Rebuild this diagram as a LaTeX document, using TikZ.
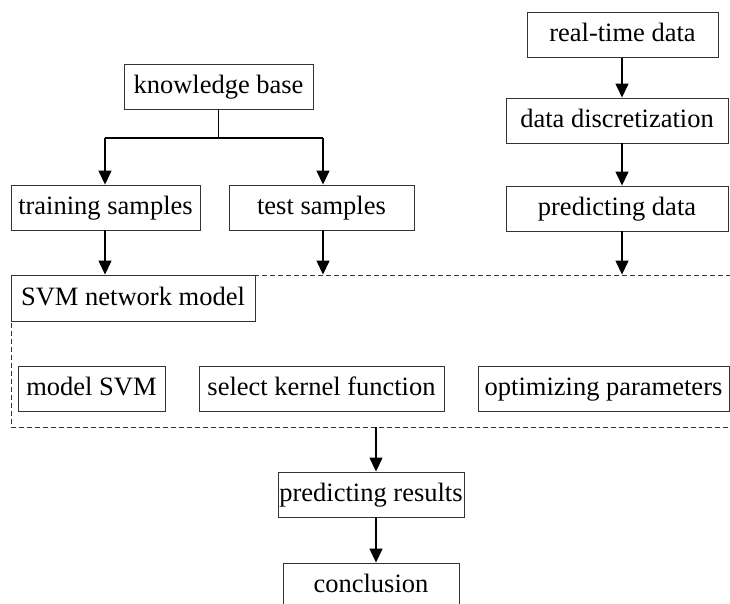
\documentclass[tikz,border=0pt]{standalone}
\usepackage{fontspec}
\setmainfont{Liberation Serif}
\usetikzlibrary{arrows.meta}
\begin{document}
\begin{tikzpicture}[x=1pt,y=-1pt,
  box/.style={draw=black!80,line width=0.9pt,rectangle,inner sep=0pt,
    minimum height=45pt,font=\fontsize{26.5}{26.5}\selectfont,
    text height=19pt,text depth=5pt,anchor=center},
  link/.style={line width=1.4pt,-{Triangle[length=14pt,width=13pt]}},
  plain/.style={line width=1.4pt},
  frame/.style={draw=black!80,line width=0.9pt,dash pattern=on 5pt off 3pt,
    rectangle,inner sep=0pt}]
\clip (0,0) rectangle (730,604);

% input branch on the right
\node[box,minimum width=191pt] (rt) at (622.5,35) {real-time data};
\node[box,minimum width=222pt] (dd) at (617,120.5) {data discretization};
\node[box,minimum width=222pt] (pd) at (617,208.5) {predicting data};

% knowledge base branch
\node[box,minimum width=189pt] (kb) at (218.5,86.5) {knowledge base};
\node[box,minimum width=189pt] (tr) at (105.5,207.5) {training samples};
\node[box,minimum width=185pt] (te) at (321.5,207.5) {test samples};

% dashed model block (its right side runs past the edge)
\node[frame,minimum width=724pt,minimum height=152pt] (fr) at (373,351) {};
\node[box,minimum width=244pt,minimum height=46pt] (svm) at (133,298) {SVM network model};
\node[box,minimum width=147pt] (ms) at (91.5,388.5) {model SVM};
\node[box,minimum width=245pt] (sk) at (321.5,388.5) {select kernel function};
\node[box,minimum width=251pt] (op) at (603.5,388.5) {optimizing parameters};

% results
\node[box,minimum width=186pt] (pr) at (371,494.5) {predicting results};
\node[box,minimum width=176pt] (co) at (371,585.5) {conclusion};

% helper points
\coordinate (split) at (218.5,138);
\coordinate (xl) at (105,0);
\coordinate (xr) at (323,0);
\coordinate (xd) at (622,0);
\coordinate (xo) at (376,0);

% connectors
\draw[link] (rt.south -| xd) -- (dd.north -| xd);
\draw[link] (dd.south -| xd) -- (pd.north -| xd);
\draw[link] (pd.south -| xd) -- (fr.north -| xd);

\draw[plain] (kb.south) -- (split);
\draw[plain] (split -| xl) -- (split -| xr);
\draw[link] (split -| xl) -- (tr.north -| xl);
\draw[link] (split -| xr) -- (te.north -| xr);
\draw[link] (tr.south -| xl) -- (fr.north -| xl);
\draw[link] (te.south -| xr) -- (fr.north -| xr);

\draw[link] (fr.south -| xo) -- (pr.north -| xo);
\draw[link] (pr.south -| xo) -- (co.north -| xo);
\end{tikzpicture}
\end{document}
